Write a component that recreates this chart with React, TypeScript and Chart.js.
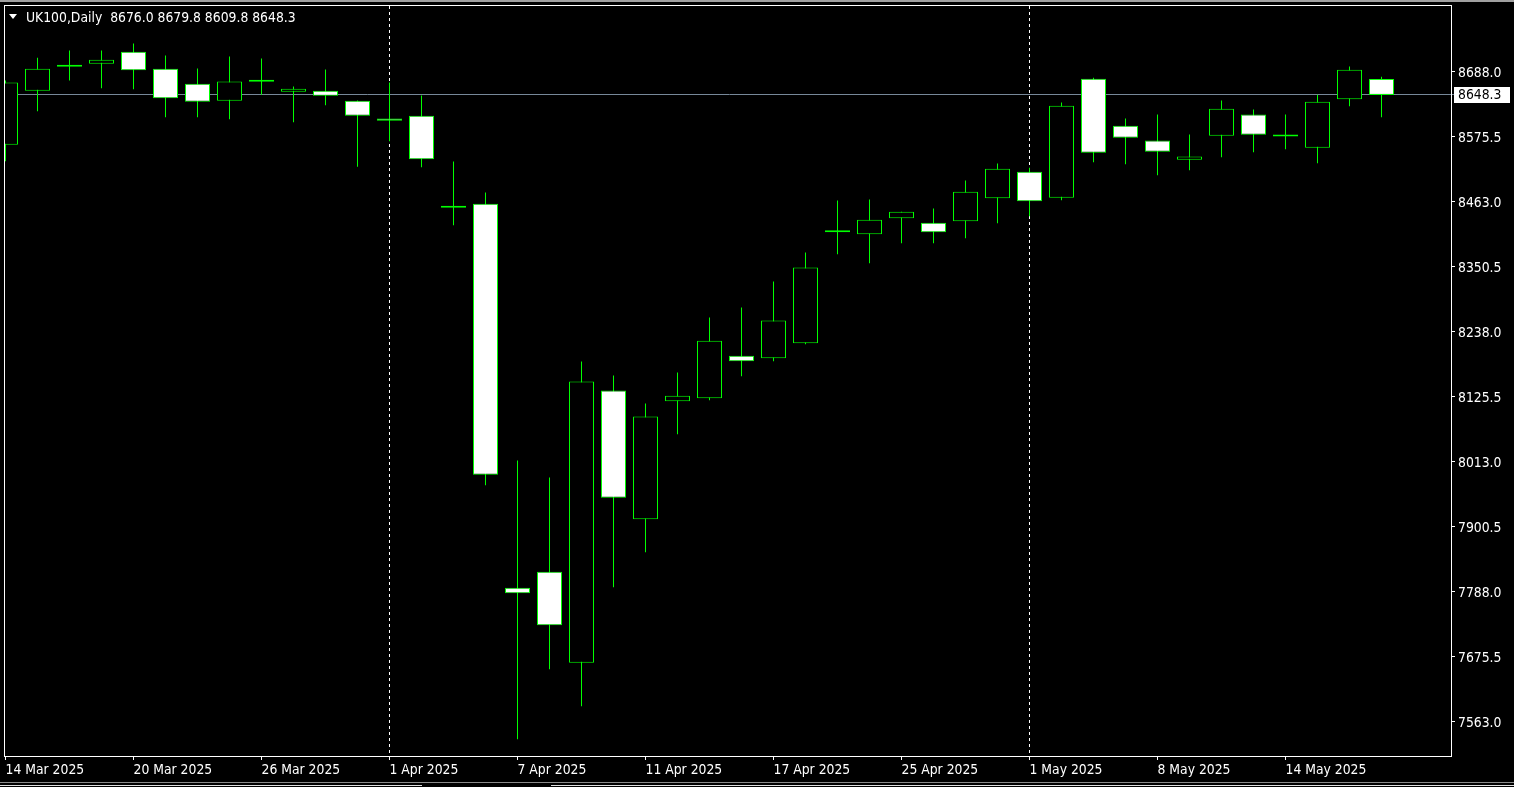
import React, { useEffect, useRef } from "react";
import { Chart, registerables } from "chart.js";

Chart.register(...registerables);

const symbol = "UK100";
const period = "Daily";

const dates = [
  "14 Mar 2025", "17 Mar 2025", "18 Mar 2025", "19 Mar 2025", "20 Mar 2025", "21 Mar 2025",
  "24 Mar 2025", "25 Mar 2025", "26 Mar 2025", "27 Mar 2025", "28 Mar 2025", "31 Mar 2025",
  "1 Apr 2025", "2 Apr 2025", "3 Apr 2025", "4 Apr 2025", "7 Apr 2025", "8 Apr 2025",
  "9 Apr 2025", "10 Apr 2025", "11 Apr 2025", "14 Apr 2025", "15 Apr 2025", "16 Apr 2025",
  "17 Apr 2025", "22 Apr 2025", "23 Apr 2025", "24 Apr 2025", "25 Apr 2025", "28 Apr 2025",
  "29 Apr 2025", "30 Apr 2025", "1 May 2025", "2 May 2025", "6 May 2025", "7 May 2025",
  "8 May 2025", "9 May 2025", "12 May 2025", "13 May 2025", "14 May 2025", "15 May 2025",
  "16 May 2025", "19 May 2025",
];

const open = [
  8562.0, 8655.5, 8697.0, 8702.2, 8723.0, 8693.5, 8667.6, 8638.2, 8671.0, 8653.7, 8655.5,
  8638.2, 8607.5, 8612.2, 8453.5, 8459.9, 7795.3, 7822.9, 7665.4, 8136.7, 7914.0, 8118.2,
  8123.4, 8196.8, 8192.6, 8218.6, 8410.5, 8407.3, 8435.0, 8427.0, 8429.8, 8469.6, 8515.3,
  8470.3, 8676.2, 8594.9, 8569.4, 8536.0, 8577.6, 8614.4, 8577.0, 8556.8, 8640.9, 8676.0,
];
const high = [
  8673.3, 8712.6, 8725.2, 8725.2, 8737.3, 8716.6, 8694.1, 8714.8, 8711.4, 8662.9, 8692.3,
  8638.5, 8669.8, 8647.3, 8533.1, 8479.4, 8015.6, 7986.2, 8186.9, 8162.7, 8114.2, 8167.9,
  8263.1, 8280.4, 8325.4, 8375.6, 8465.6, 8467.3, 8446.0, 8451.7, 8500.2, 8529.6, 8522.2,
  8635.2, 8678.0, 8607.5, 8614.4, 8579.8, 8638.7, 8623.1, 8614.4, 8648.5, 8697.5, 8679.8,
];
const low = [
  8533.6, 8620.2, 8673.3, 8660.0, 8658.2, 8609.8, 8609.8, 8606.3, 8648.5, 8601.1, 8630.5,
  8523.9, 8568.2, 8523.2, 8422.8, 7972.8, 7533.2, 7654.4, 7590.3, 7796.3, 7856.9, 8061.1,
  8120.0, 8161.5, 8187.5, 8216.9, 8372.7, 8357.1, 8391.7, 8391.7, 8400.3, 8426.3, 8438.4,
  8466.1, 8531.9, 8528.4, 8509.4, 8518.0, 8540.5, 8549.2, 8554.4, 8530.2, 8628.8, 8609.8,
];
const close = [
  8669.8, 8693.5, 8697.5, 8709.1, 8691.1, 8642.7, 8636.4, 8671.6, 8671.0, 8658.9, 8646.8,
  8612.2, 8603.5, 8537.1, 8453.0, 7990.8, 7785.9, 7730.5, 8152.3, 7951.0, 8091.7, 8127.6,
  8222.8, 8187.5, 8257.9, 8349.6, 8411.0, 8432.2, 8446.0, 8410.7, 8480.7, 8520.5, 8464.4,
  8629.5, 8548.2, 8574.1, 8549.9, 8541.7, 8624.3, 8579.3, 8576.5, 8636.4, 8691.8, 8648.3,
];

const xTickIndex = [0, 4, 8, 12, 16, 20, 24, 28, 32, 36, 40];
const monthSeparatorIndex = [12, 32];
const yTickValues = [7563.0, 7675.5, 7788.0, 7900.5, 8013.0, 8125.5, 8238.0, 8350.5, 8463.0, 8575.5, 8688.0];

const FONT = '"DejaVu Sans Condensed", "DejaVu Sans", sans-serif';
const FONT_SIZE = 13.8;
const LIME = "#00ff00";

const last = close.length - 1;

const decorPlugin = {
  id: "mt4decor",
  beforeDatasetsDraw(chart: any) {
    const { ctx, chartArea: a, scales } = chart;
    const x = scales.x;
    const y = scales.y;
    ctx.save();
    ctx.lineWidth = 1;
    ctx.strokeStyle = "#ffffff";
    ctx.setLineDash([3, 3]);
    monthSeparatorIndex.forEach((i) => {
      const px = Math.round(x.getPixelForValue(i) - 0.5) + 0.5;
      ctx.beginPath();
      ctx.moveTo(px, a.top);
      ctx.lineTo(px, a.bottom);
      ctx.stroke();
    });
    ctx.setLineDash([]);
    const py = Math.floor(y.getPixelForValue(close[last])) + 0.5;
    ctx.strokeStyle = "#778899";
    ctx.beginPath();
    ctx.moveTo(a.left, py);
    ctx.lineTo(a.right + 3, py);
    ctx.stroke();
    ctx.restore();
  },
  afterDraw(chart: any) {
    const { ctx, chartArea: a, scales, width } = chart;
    const y = scales.y;
    ctx.save();
    // window chrome
    ctx.fillStyle = "#a0a0a0";
    ctx.fillRect(0, 0, width, 2);
    ctx.fillStyle = "#8a8a8a";
    ctx.fillRect(0, 782, width, 1);
    ctx.fillStyle = "#e0e0e0";
    ctx.fillRect(0, 785, 422, 1);
    ctx.fillRect(551, 785, width - 551, 1);
    // frame
    ctx.strokeStyle = "#ffffff";
    ctx.lineWidth = 1;
    ctx.strokeRect(a.left - 0.5, a.top - 0.5, a.right - a.left + 1, a.bottom - a.top + 1);
    // title
    ctx.fillStyle = "#ffffff";
    ctx.beginPath();
    ctx.moveTo(9, 14);
    ctx.lineTo(17, 14);
    ctx.lineTo(13, 19);
    ctx.closePath();
    ctx.fill();
    ctx.font = `${FONT_SIZE}px ${FONT}`;
    ctx.textBaseline = "middle";
    ctx.textAlign = "left";
    const f = (v: number) => v.toFixed(1);
    ctx.fillText(
      `${symbol},${period}  ${f(open[last])} ${f(high[last])} ${f(low[last])} ${f(close[last])}`,
      26,
      18
    );
    // price label
    const py = Math.floor(y.getPixelForValue(close[last]));
    ctx.fillStyle = "#ffffff";
    ctx.fillRect(a.right + 3, py - 7, 56, 16);
    ctx.fillStyle = "#000000";
    ctx.fillText(f(close[last]), a.right + 7, py + 1);
    ctx.restore();
  },
};

export default function App() {
  const ref = useRef<HTMLCanvasElement>(null);
  useEffect(() => {
    const bodyColors = open.map((o, i) => (close[i] < o ? "#ffffff" : "#000000"));
    const chart = new Chart(ref.current as HTMLCanvasElement, {
      type: "bar",
      data: {
        datasets: [
          {
            label: "body",
            data: dates.map((_, i) => ({ x: i, y: [open[i], close[i]] })) as any,
            backgroundColor: bodyColors,
            borderColor: LIME,
            borderWidth: 1,
            borderSkipped: false,
            barThickness: 25,
            grouped: false,
            minBarLength: 2,
            inflateAmount: 0,
            clip: 0,
          } as any,
          {
            label: "wick",
            data: dates.map((_, i) => ({ x: i, y: [low[i], high[i]] })) as any,
            backgroundColor: LIME,
            borderWidth: 0,
            barThickness: 1,
            grouped: false,
            inflateAmount: 0,
            clip: 0,
          } as any,
        ],
      },
      options: {
        responsive: false,
        devicePixelRatio: 1,
        animation: false,
        layout: { padding: { left: 5, top: 6, right: 0, bottom: 0 } },
        plugins: { legend: { display: false }, tooltip: { enabled: false }, title: { display: false } },
        scales: {
          x: {
            type: "linear",
            position: "bottom",
            offset: false,
            min: -0.015625,
            max: 45.171875,
            afterBuildTicks: (s: any) => {
              s.ticks = xTickIndex.map((v) => ({ value: v }));
            },
            afterFit: (s: any) => {
              s.height = 31;
              s.paddingLeft = 0;
              s.paddingRight = 0;
              s.paddingTop = 0;
              s.paddingBottom = 0;
            },
            ticks: {
              autoSkip: false,
              maxRotation: 0,
              minRotation: 0,
              align: "start",
              color: "#ffffff",
              padding: 2,
              font: { family: FONT, size: FONT_SIZE },
              callback: (v: any) => dates[v as number] ?? "",
            },
            grid: { offset: false, drawOnChartArea: false, drawTicks: true, tickLength: 4, tickColor: "#ffffff", color: "#ffffff" },
            border: { display: false },
          } as any,
          y: {
            type: "linear",
            position: "right",
            min: 7504.15,
            max: 8802.23,
            afterBuildTicks: (s: any) => {
              s.ticks = yTickValues.map((v) => ({ value: v }));
            },
            afterFit: (s: any) => {
              s.width = 63;
              s.paddingLeft = 0;
              s.paddingRight = 0;
              s.paddingTop = 0;
              s.paddingBottom = 0;
            },
            ticks: {
              color: "#ffffff",
              padding: 3,
              labelOffset: 1,
              font: { family: FONT, size: FONT_SIZE },
              callback: (v: any) => Number(v).toFixed(1),
            },
            grid: { drawOnChartArea: false, drawTicks: true, tickLength: 4, tickColor: "#ffffff", color: "#ffffff" },
            border: { display: false },
          } as any,
        },
      },
      plugins: [decorPlugin],
    });
    return () => chart.destroy();
  }, []);
  return (
    <div style={{ position: "fixed", left: 0, top: 0, width: 1514, height: 787, background: "#000" }}>
      <canvas ref={ref} width={1514} height={787} style={{ display: "block" }} />
    </div>
  );
}
